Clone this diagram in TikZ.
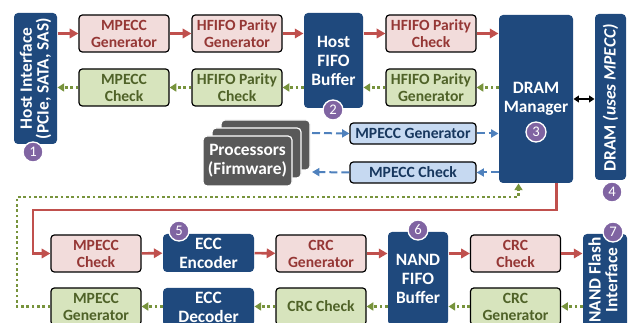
\documentclass[tikz,border=0pt]{standalone}
\usepackage{fontspec}
\setmainfont{Carlito}
\usetikzlibrary{arrows.meta}

\definecolor{redfill}{RGB}{242,220,219}
\definecolor{redtext}{RGB}{149,55,53}
\definecolor{redline}{RGB}{192,80,77}
\definecolor{greenfill}{RGB}{215,228,189}
\definecolor{greentext}{RGB}{79,98,40}
\definecolor{greenline}{RGB}{119,147,60}
\definecolor{bluefill}{RGB}{198,217,241}
\definecolor{bluetext}{RGB}{23,55,94}
\definecolor{blueline}{RGB}{79,129,189}
\definecolor{darkblue}{RGB}{31,73,125}
\definecolor{procgray}{RGB}{89,89,89}
\definecolor{badgepurple}{RGB}{128,100,162}

\tikzset{every picture/.style={line width=0.75pt}}
\tikzset{
  redbox/.style={draw=black, fill=redfill, text=redtext, rounded corners=2.5pt, line width=0.9pt,
    minimum width=67.5pt, minimum height=27.75pt, inner sep=0pt, align=center,
    font=\bfseries\fontsize{11.7}{12.75}\selectfont},
  greenbox/.style={redbox, fill=greenfill, text=greentext},
  bluebox/.style={redbox, fill=bluefill, text=bluetext, minimum width=94.5pt, minimum height=15.75pt},
  darkbox/.style={fill=darkblue, text=white, rounded corners=3pt, inner sep=0pt, align=center,
    font=\bfseries\fontsize{13}{14.25}\selectfont},
  darktext/.style={text=white, inner sep=0pt, align=center, font=\bfseries\fontsize{13}{12.5}\selectfont},
  procbox/.style={draw=white, fill=procgray, text=white, rounded corners=3pt, line width=0.9pt,
    minimum width=66.75pt, minimum height=37.5pt, inner sep=0pt, align=center,
    font=\bfseries\fontsize{13}{14.25}\selectfont},
  badge/.style={circle, fill=badgepurple, draw=white, line width=1pt, text=white,
    minimum size=15pt, inner sep=0pt, font=\fontsize{11}{11}\selectfont},
  redarrow/.style={draw=redline, line width=1.9pt, -{Triangle[length=6.5pt,width=7pt]}},
  greenarrow/.style={draw=greenline, line width=1.9pt, dash pattern=on 2pt off 2pt,
    -{Triangle[length=5pt,width=6pt]}},
  bluearrow/.style={draw=blueline, line width=1.5pt, dash pattern=on 6pt off 3pt,
    -{Triangle[length=5.5pt,width=6pt]}},
}

\begin{document}
\begin{tikzpicture}[x=0.75pt,y=0.75pt,yscale=-1,xscale=1]
\clip (0,0) rectangle (631,323);

%Shape: Host Interface
\node [darkbox, minimum width=32.25pt, minimum height=98.25pt] (host) at (35.5,78.5) {};
\node [darktext, rotate=90] (hostlbl) at (host) {Host Interface\\(PCIe, SATA, SAS)};
%Shape: Host FIFO Buffer
\node [darkbox, minimum width=44.25pt, minimum height=71.25pt] (hfifo) at (333.5,60.5) {Host\\FIFO\\Buffer};
%Shape: DRAM Manager
\node [darkbox, minimum width=55.5pt, minimum height=126pt] (dramm) at (536,99) {DRAM\\Manager};
%Shape: DRAM
\node [darkbox, minimum width=23.25pt, minimum height=124.5pt] (dram) at (610.5,97) {};
\node [darktext, rotate=90] (dramlbl) at (610.5,98) {DRAM \textit{(uses MPECC)}};

%Shape: host side checks
\node [redbox] (mgenA) at (124,33.5) {MPECC\\Generator};
\node [redbox] (pgenA) at (237,33.5) {HFIFO Parity\\Generator};
\node [greenbox] (mchkA) at (124,87.5) {MPECC\\Check};
\node [greenbox] (pchkA) at (237,87.5) {HFIFO Parity\\Check};
\node [redbox] (pchkB) at (431,33.5) {HFIFO Parity\\Check};
\node [greenbox] (pgenB) at (431,87.5) {HFIFO Parity\\Generator};

%Shape: processors
\node [procbox] (procC) at (265.5,145) {};
\node [procbox] (procB) at (256.5,153) {};
\node [procbox] (procA) at (247.5,161) {Processors\\(Firmware)};
\coordinate (procout) at (312,133);
\coordinate (procin) at (312,172);
\node [bluebox] (mgenP) at (413,133.5) {MPECC Generator};
\node [bluebox] (mchkP) at (413,172.5) {MPECC Check};

%Shape: flash side
\node [redbox] (mchkC) at (96,253.5) {MPECC\\Check};
\node [darkbox, minimum width=68.25pt, minimum height=28.5pt] (ecce) at (208.5,253) {ECC\\Encoder};
\node [redbox] (crcgA) at (321,253.5) {CRC\\Generator};
\node [darkbox, minimum width=45pt, minimum height=69.75pt] (nfifo) at (418,278.5) {NAND\\FIFO\\Buffer};
\node [redbox] (crccA) at (515.5,253.5) {CRC\\Check};
\node [darkbox, minimum width=33pt, minimum height=79.5pt] (nand) at (605,287) {};
\node [darktext, rotate=90] (nandlbl) at (603,280) {NAND Flash\\Interface};
\node [greenbox] (mgenC) at (96,306.5) {MPECC\\Generator};
\node [darkbox, minimum width=68.25pt, minimum height=28.5pt] (eccd) at (208.5,307) {ECC\\Decoder};
\node [greenbox] (crccB) at (321,306.5) {CRC Check};
\node [greenbox] (crcgB) at (515.5,306.5) {CRC\\Generator};

%Straight Lines: write path, host side
\draw [redarrow] (host.east |- mgenA.west) -- (mgenA.west);
\draw [redarrow] (mgenA) -- (pgenA);
\draw [redarrow] (pgenA.east) -- (pgenA.east -| hfifo.west);
\draw [redarrow] (pgenA.east -| hfifo.east) -- (pchkB.west);
\draw [redarrow] (pchkB.east) -- (pchkB.east -| dramm.west);
%Straight Lines: read path, host side
\draw [greenarrow] (pgenB.east -| dramm.west) -- (pgenB.east);
\draw [greenarrow] (pgenB.west) -- (pgenB.west -| hfifo.east);
\draw [greenarrow] (pchkA.east -| hfifo.west) -- (pchkA.east);
\draw [greenarrow] (pchkA) -- (mchkA);
\draw [greenarrow] (mchkA.west) -- (mchkA.west -| host.east);
%Straight Lines: firmware
\draw [bluearrow] (procout) -- (mgenP.west);
\draw [bluearrow] (mgenP.east) -- (mgenP.east -| dramm.west);
\draw [bluearrow] (mchkP.east -| dramm.west) -- (mchkP.east);
\draw [bluearrow] (mchkP.west) -- (procin);
%Straight Lines: DRAM
\draw [{Triangle[length=4pt,width=5pt]}-{Triangle[length=4pt,width=5pt]}, line width=1.5pt] (dramm.east) -- (dramm.east -| dram.west);

%Straight Lines: write path, flash side
\draw [redarrow] ([xshift=-12.75pt]dramm.south east) |- (33,210) |- (mchkC.west);
\draw [redarrow] (mchkC) -- (ecce);
\draw [redarrow] (ecce) -- (crcgA);
\draw [redarrow] (crcgA.east) -- (crcgA.east -| nfifo.west);
\draw [redarrow] (crccA.west -| nfifo.east) -- (crccA.west);
\draw [redarrow] (crccA.east) -- (crccA.east -| nand.west);
%Straight Lines: read path, flash side
\draw [greenarrow] (crcgB.east -| nand.west) -- (crcgB.east);
\draw [greenarrow] (crcgB.west) -- (crcgB.west -| nfifo.east);
\draw [greenarrow] (crccB.east -| nfifo.west) -- (crccB.east);
\draw [greenarrow] (crccB.west) -- (crccB.west -| eccd.east);
\draw [greenarrow] (eccd.west |- mgenC.east) -- (mgenC.east);
\draw [greenarrow] (mgenC.west) -| (17,197) -| ([xshift=-41.25pt]dramm.south east);

%Shape: numbers
\node [badge] (n1) at (33,152) {1};
\node [badge] (n2) at (333,110) {2};
\node [badge] (n3) at (536,132) {3};
\node [badge] (n4) at (612,192) {4};
\node [badge] (n5) at (179,231) {5};
\node [badge] (n6) at (418,230) {6};
\node [badge] (n7) at (613,232) {7};

\end{tikzpicture}
\end{document}
